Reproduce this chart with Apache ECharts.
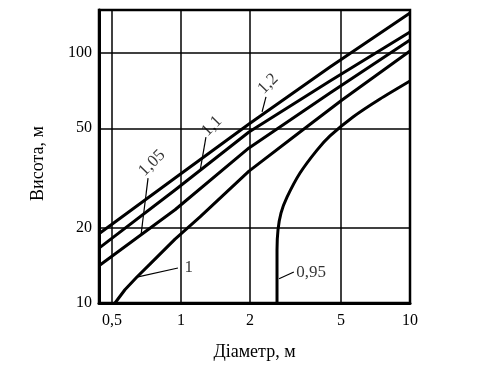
<!DOCTYPE html>
<html><head><meta charset="utf-8">
<script src="https://cdn.jsdelivr.net/npm/echarts@6/dist/echarts.min.js"></script>
<style>html,body{margin:0;padding:0;background:#fff}#c{width:492px;height:370px}</style>
</head><body><div id="c"></div>
<script>
// Tick labels
const xTicks = [0.5, 1, 2, 5, 10];
const yTicks = [10, 20, 50, 100];
// Curves (diameter in m, height in m)
const x12  = [0.443, 0.942, 1.981, 4.474, 10];
const y12  = [19.05, 31.6, 52.0, 87.9, 144.5];
const x11  = [0.443, 0.942, 1.981, 4.474, 10];
const y11  = [16.7, 28.3, 48.3, 77.3, 121.3];
const x105 = [0.443, 0.942, 1.981, 4.474, 10];
const y105 = [14.2, 23.6, 41.7, 69.2, 112.7];
const x1   = [0.515, 0.569, 0.642, 0.732, 0.942, 1.211, 1.981, 3.309, 5.049, 10];
const y1   = [10, 11.3, 12.7, 14.3, 18.0, 22.1, 33.7, 48.3, 64.9, 101.9];
const x095 = [2.626, 2.626, 2.652, 2.733, 2.904, 3.309, 3.926, 4.474, 5.638, 7.396, 10];
const y095 = [10, 16.3, 19.6, 22.9, 26.5, 33.1, 40.9, 46.6, 55.5, 65.5, 77.3];
// Curve annotations: text, anchor (x,y), leader from (x,y) to (x,y)
const annText = ['1,2', '1,1', '1,05', '1', '0,95'];
const annX    = [2.40, 1.365, 0.747, 1.08, 3.70];
const annY    = [75.2, 51.0, 36.3, 13.8, 13.3];
const leadX1  = [2.35, 1.285, 0.718, 0.970, 3.11];
const leadY1  = [66.7, 46.1, 31.6, 13.8, 13.3];
const leadX2  = [2.26, 1.211, 0.669, 0.642, 2.68];
const leadY2  = [58.1, 33.7, 18.7, 12.7, 12.5];

const FONT = "'Liberation Serif','DejaVu Serif',serif";
const zip = (a, b) => a.map((v, i) => [v, b[i]]);
const fmt = v => String(v).replace('.', ',');

const curves = [[x12, y12], [x11, y11], [x105, y105], [x1, y1], [x095, y095]];
const series = curves.map((c, i) => ({
  name: annText[i], type: 'line', data: zip(c[0], c[1]),
  showSymbol: false, smooth: i === 4 ? 0.2 : false,
  lineStyle: { color: '#000', width: 3, join: 'round' }, silent: true, z: 5
}));

series.push({
  type: 'scatter', data: [], silent: true,
  markLine: {
    symbol: 'none', silent: true, label: { show: false },
    lineStyle: { color: '#000', width: 1.5, type: 'solid' },
    data: xTicks.slice(0, 4).map(v => ({ xAxis: v }))
      .concat(yTicks.slice(1).map(v => ({ yAxis: v })))
  }
});
series.push({
  type: 'scatter', data: [], silent: true,
  markLine: {
    symbol: 'none', silent: true, label: { show: false },
    lineStyle: { color: '#000', width: 1.2, type: 'solid' },
    data: annText.map((t, i) => [{ coord: [leadX1[i], leadY1[i]] }, { coord: [leadX2[i], leadY2[i]] }])
  }
});
series.push({
  type: 'scatter', symbolSize: 0, silent: true, z: 10,
  data: annText.map((t, i) => ({
    value: [annX[i], annY[i]],
    label: { show: true, formatter: t, position: 'inside', rotate: i < 3 ? 45 : 0,
      color: '#000', fontFamily: FONT, fontSize: 17 }
  }))
});

const chart = echarts.init(document.getElementById('c'));
chart.setOption({
  animation: false,
  backgroundColor: '#fff',
  grid: { left: 99, right: 82, top: 10, bottom: 67, show: true, borderColor: '#000', borderWidth: 2.5 },
  xAxis: {
    type: 'log', logBase: 10, min: 0.4385, max: 10,
    name: 'Діаметр, м', nameLocation: 'middle', nameGap: 40,
    nameTextStyle: { fontFamily: FONT, fontSize: 18, color: '#000' },
    axisLine: { lineStyle: { color: '#000', width: 3 } },
    axisTick: { show: false },
    splitLine: { show: false },
    axisLabel: { customValues: xTicks, formatter: fmt, fontFamily: FONT, fontSize: 16, color: '#000', margin: 10 }
  },
  yAxis: {
    type: 'log', logBase: 10, min: 10, max: 148.6,
    name: 'Висота, м', nameLocation: 'middle', nameGap: 52,
    nameTextStyle: { fontFamily: FONT, fontSize: 18, color: '#000', padding: [0, 0, 0, -14] },
    axisLine: { lineStyle: { color: '#000', width: 3 } },
    axisTick: { show: false },
    splitLine: { show: false },
    axisLabel: { customValues: yTicks, formatter: fmt, fontFamily: FONT, fontSize: 16, color: '#000', margin: 7 }
  },
  series: series
});
</script></body></html>
